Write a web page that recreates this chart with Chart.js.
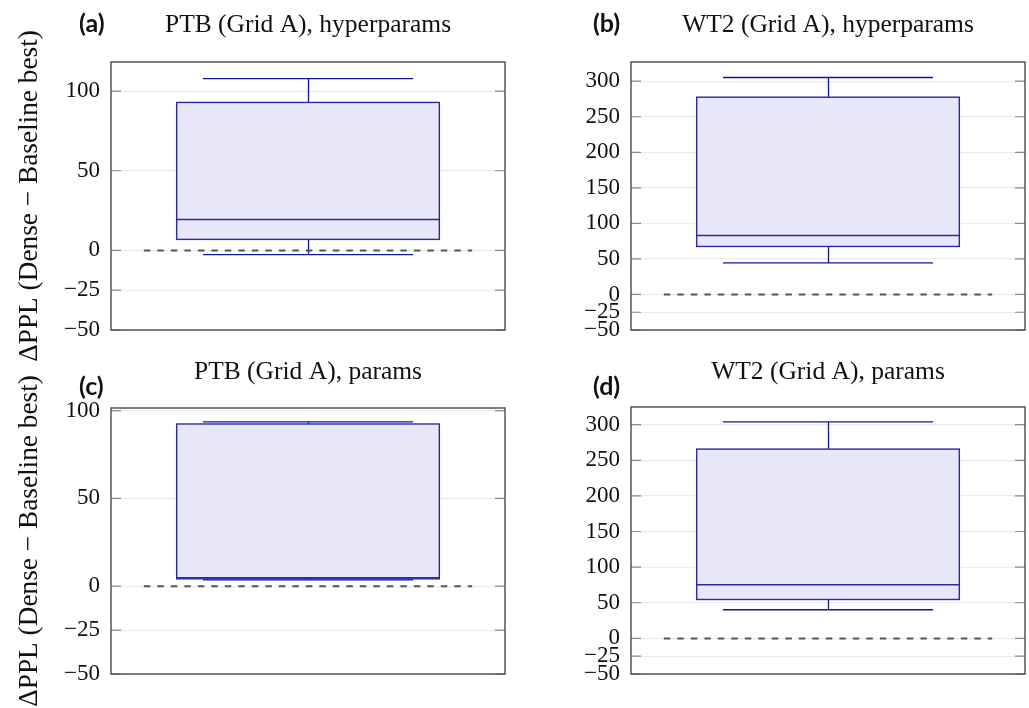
<!DOCTYPE html>
<html>
<head>
<meta charset="utf-8">
<script src="https://cdn.jsdelivr.net/npm/chart.js@4.4.1/dist/chart.umd.min.js"></script>
<style>
  html, body { margin: 0; padding: 0; background: #fff; }
  body { width: 1029px; height: 708px; position: relative; overflow: hidden; }
  canvas.panel { position: absolute; }
  .tag { position: absolute; font-family: Lato, "Noto Sans", sans-serif; font-weight: bold;
         font-size: 25px; line-height: 26px; color: #111; white-space: nowrap; }
</style>
</head>
<body>
<script>
// Panel titles and sub-figure tags
const categories = ['PTB (Grid A), hyperparams', 'WT2 (Grid A), hyperparams',
                    'PTB (Grid A), params', 'WT2 (Grid A), params'];
const panelTags = ['(a)', '(b)', '(c)', '(d)'];

// Five-number summaries of ΔPPL per panel
const whiskerLow  = [-2.7, 44.4, 3.6, 40.2];
const quartile1   = [6.9, 67.5, 4.2, 54.6];
const medians     = [19.4, 83.0, 4.8, 75.2];
const quartile3   = [92.9, 277.5, 92.4, 265.7];
const whiskerHigh = [107.9, 305.2, 93.6, 304.0];

// Axis limits and tick labels
const axisMin = [-50, -50, -50, -50];
const axisMax = [118.3, 327.0, 101.5, 324.8];
const ticksPTB = [-50, -25, 0, 50, 100];
const ticksWT2 = [-50, -25, 0, 50, 100, 150, 200, 250, 300];
const panelTicks = [ticksPTB, ticksWT2, ticksPTB, ticksWT2];

// Zero reference line (dashed) and box position on the x axis
const refLineX = [0.5, 1.5];
const refLineY = 0;
const boxPosition = 1;

const yTitle = 'ΔPPL (Dense − Baseline best)';

// Canvas placement and plot-area geometry for each panel
const layoutSpec = [
  { left: 0,   top: 0,   w: 520, h: 372, area: { l: 111, t: 62, r: 505, b: 330 }, titleY: 25, tag: { x: 79,  y: 22 } },
  { left: 520, top: 0,   w: 509, h: 372, area: { l: 111, t: 62, r: 505, b: 330 }, titleY: 25, tag: { x: 593, y: 22 } },
  { left: 0,   top: 340, w: 520, h: 368, area: { l: 111, t: 68, r: 505, b: 334 }, titleY: 32, tag: { x: 79,  y: 385 } },
  { left: 520, top: 340, w: 509, h: 368, area: { l: 111, t: 67, r: 505, b: 334 }, titleY: 32, tag: { x: 593, y: 385 } }
];

const SERIF = '"Liberation Serif", "DejaVu Serif", serif';
const TITLE_SIZE = 25.5, YTITLE_SIZE = 27.3;
const BOX_HALF = 0.4, CAP_HALF = 0.32;
const BOX_FILL = '#e8e8fa', BOX_EDGE = '#2a2aa8', WHISKER = '#14149a';

Chart.defaults.font.family = SERIF;

const fmtTick = v => (v < 0 ? '\u2212' + Math.abs(v) : String(v));

// Draws the box, whiskers and median from the panel's summary values
const boxWhisker = {
  id: 'boxWhisker',
  beforeDatasetsDraw(chart, args, opts) {
    const { ctx } = chart;
    const xs = chart.scales.x, ys = chart.scales.y;
    const i = opts.index;
    const xL = xs.getPixelForValue(boxPosition - BOX_HALF);
    const xR = xs.getPixelForValue(boxPosition + BOX_HALF);
    const xC = Math.round(xs.getPixelForValue(boxPosition)) + 0.5;
    const cL = xs.getPixelForValue(boxPosition - CAP_HALF);
    const cR = xs.getPixelForValue(boxPosition + CAP_HALF);
    const yLo = ys.getPixelForValue(whiskerLow[i]);
    const yQ1 = ys.getPixelForValue(quartile1[i]);
    const yMd = ys.getPixelForValue(medians[i]);
    const yQ3 = ys.getPixelForValue(quartile3[i]);
    const yHi = ys.getPixelForValue(whiskerHigh[i]);

    ctx.save();
    ctx.fillStyle = BOX_FILL;
    ctx.fillRect(xL, yQ3, xR - xL, yQ1 - yQ3);

    ctx.strokeStyle = WHISKER;
    ctx.lineWidth = 1.3;
    ctx.beginPath();
    ctx.moveTo(xC, yQ3); ctx.lineTo(xC, yHi);
    ctx.moveTo(xC, yQ1); ctx.lineTo(xC, yLo);
    ctx.moveTo(cL, yHi); ctx.lineTo(cR, yHi);
    ctx.moveTo(cL, yLo); ctx.lineTo(cR, yLo);
    ctx.stroke();

    ctx.strokeStyle = BOX_EDGE;
    ctx.lineWidth = 1.4;
    ctx.strokeRect(xL, yQ3, xR - xL, yQ1 - yQ3);

    ctx.beginPath();
    ctx.moveTo(xL, yMd); ctx.lineTo(xR, yMd);
    ctx.stroke();
    ctx.restore();
  },
  afterDraw(chart) {
    const { ctx, chartArea: a } = chart;
    const ys = chart.scales.y;
    ctx.save();
    // inward tick marks on both sides
    ctx.strokeStyle = '#8c8c8c';
    ctx.lineWidth = 1.2;
    ctx.beginPath();
    ys.ticks.forEach(t => {
      const y = ys.getPixelForValue(t.value);
      ctx.moveTo(a.left, y); ctx.lineTo(a.left + 10, y);
      ctx.moveTo(a.right - 10, y); ctx.lineTo(a.right, y);
    });
    ctx.stroke();
    // plot frame
    ctx.strokeStyle = '#4a4a4a';
    ctx.lineWidth = 1.4;
    ctx.strokeRect(a.left, a.top, a.right - a.left, a.bottom - a.top);
    ctx.restore();
  }
};

layoutSpec.forEach((L, i) => {
  const cv = document.createElement('canvas');
  cv.className = 'panel';
  cv.width = L.w; cv.height = L.h;
  cv.style.left = L.left + 'px'; cv.style.top = L.top + 'px';
  cv.style.width = L.w + 'px'; cv.style.height = L.h + 'px';
  document.body.appendChild(cv);

  const tag = document.createElement('div');
  tag.className = 'tag';
  tag.textContent = panelTags[i];
  tag.style.left = L.tag.x + 'px';
  tag.style.top = (L.tag.y - 13) + 'px';
  document.body.appendChild(tag);

  const titleLine = TITLE_SIZE * 1.2;
  const padTop = L.titleY - titleLine / 2;
  const padBottom = L.area.t - titleLine - padTop;

  new Chart(cv, {
    type: 'line',
    data: {
      datasets: [{
        data: refLineX.map(x => ({ x, y: refLineY })),
        borderColor: '#555555',
        borderWidth: 2,
        borderDash: [6.5, 7],
        pointRadius: 0,
        fill: false
      }]
    },
    options: {
      responsive: false,
      animation: false,
      devicePixelRatio: 1,
      events: [],
      layout: { padding: { left: 0, top: 0, right: L.w - L.area.r, bottom: L.h - L.area.b } },
      plugins: {
        legend: { display: false },
        tooltip: { enabled: false },
        title: {
          display: true,
          text: categories[i],
          fullSize: false,
          color: '#111',
          font: { family: SERIF, size: TITLE_SIZE, weight: 'normal' },
          padding: { top: padTop, bottom: padBottom }
        },
        boxWhisker: { index: i }
      },
      scales: {
        x: { type: 'linear', min: 0.4, max: 1.6, display: false },
        y: {
          type: 'linear',
          min: axisMin[i],
          max: axisMax[i],
          afterBuildTicks: s => { s.ticks = panelTicks[i].map(v => ({ value: v })); },
          afterFit: s => { s.width = L.area.l; },
          grid: { color: '#ececec', lineWidth: 1.2, drawTicks: false },
          border: { display: false },
          ticks: {
            padding: 11,
            color: '#111',
            font: { family: SERIF, size: 23 },
            callback: v => fmtTick(v)
          },
          title: {
            display: i % 2 === 0,
            text: yTitle,
            color: '#111',
            font: { family: SERIF, size: YTITLE_SIZE },
            padding: { top: 30 - YTITLE_SIZE * 0.6, bottom: 0 }
          }
        }
      }
    },
    plugins: [boxWhisker]
  });
});
</script>
</body>
</html>
